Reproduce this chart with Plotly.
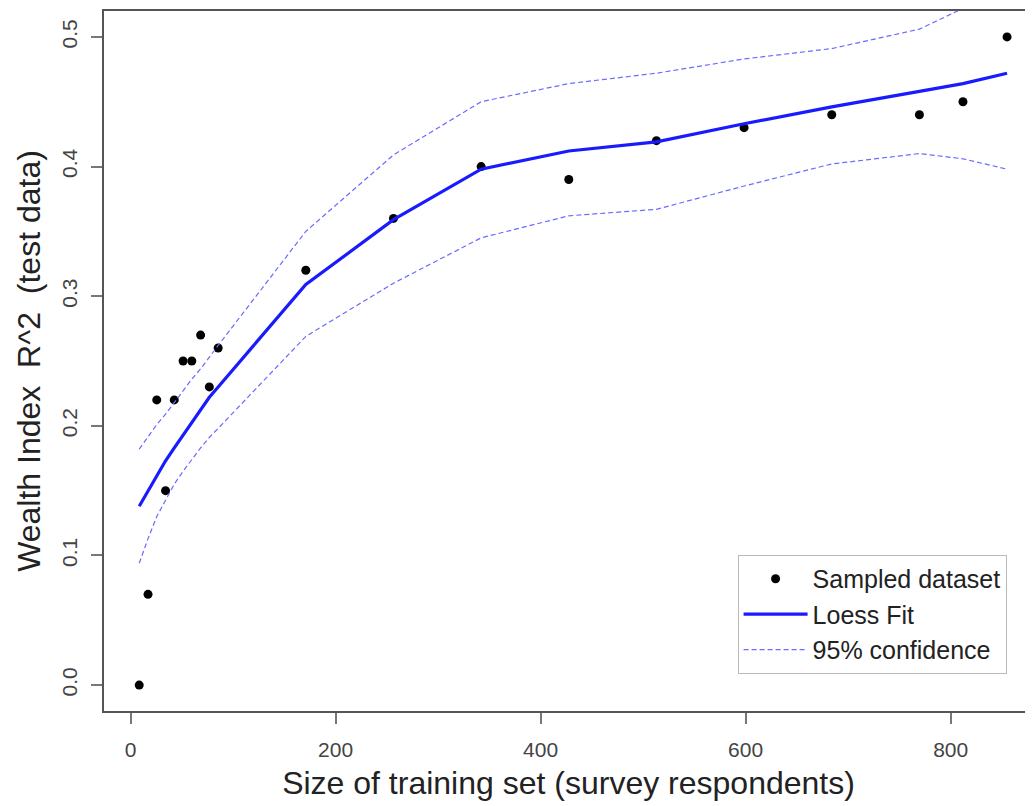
import plotly.graph_objects as go

# Data
train_size = [8.5, 17.1, 25.6, 34.2, 42.7, 51.3, 59.8, 68.4, 76.9, 85.5,
              171, 256.5, 342, 427.5, 513, 598.5, 684, 769.5, 812, 855]
r2_sampled = [0.00, 0.07, 0.22, 0.15, 0.22, 0.25, 0.25, 0.27, 0.23, 0.26,
              0.32, 0.36, 0.40, 0.39, 0.42, 0.43, 0.44, 0.44, 0.45, 0.50]
loess_fit = [0.138, 0.150, 0.162, 0.173, 0.183, 0.193, 0.203, 0.212, 0.222, 0.230,
             0.309, 0.359, 0.398, 0.412, 0.419, 0.433, 0.446, 0.458, 0.464, 0.472]
ci_upper = [0.182, 0.192, 0.201, 0.209, 0.218, 0.227, 0.236, 0.244, 0.253, 0.262,
            0.350, 0.409, 0.450, 0.464, 0.472, 0.483, 0.491, 0.506, 0.522, 0.546]
ci_lower = [0.094, 0.113, 0.130, 0.143, 0.155, 0.165, 0.174, 0.183, 0.191, 0.198,
            0.269, 0.310, 0.345, 0.362, 0.367, 0.385, 0.402, 0.410, 0.406, 0.398]

x_ticks = [0, 200, 400, 600, 800]
y_ticks = [0.0, 0.1, 0.2, 0.3, 0.4, 0.5]
y_tick_text = ["0.0", "0.1", "0.2", "0.3", "0.4", "0.5"]

FONT = "Liberation Sans, Arial, sans-serif"
TICKFONT = "Liberation Sans Narrow, Liberation Sans, Arial, sans-serif"
CI_COLOR = "#6b6bff"
FIT_COLOR = "#1a1aff"

fig = go.Figure()
fig.add_trace(go.Scatter(x=train_size, y=r2_sampled, mode="markers",
                         name="Sampled dataset",
                         marker=dict(color="black", size=9)))
fig.add_trace(go.Scatter(x=train_size, y=loess_fit, mode="lines",
                         name="Loess Fit",
                         line=dict(color=FIT_COLOR, width=3.2)))
fig.add_trace(go.Scatter(x=train_size, y=ci_upper, mode="lines",
                         name="95% confidence",
                         line=dict(color=CI_COLOR, width=1.2, dash="5px,3px")))
fig.add_trace(go.Scatter(x=train_size, y=ci_lower, mode="lines",
                         name="95% confidence", showlegend=False,
                         line=dict(color=CI_COLOR, width=1.2, dash="5px,3px")))

# The page body adds an 8px offset, so the figure is 8px smaller each way.
fig.update_layout(
    width=1025, height=798,
    margin=dict(l=96, r=0, t=3, b=95),
    plot_bgcolor="white", paper_bgcolor="white",
    font=dict(family=FONT, color="#222"),
    showlegend=True,
    legend=dict(x=0.682, y=0.2229, xanchor="left", yanchor="top",
                bordercolor="#bbb", borderwidth=1, bgcolor="white",
                font=dict(size=25, family=FONT, color="#222"),
                itemwidth=64, tracegroupgap=0),
    xaxis=dict(range=[-25.85, 880.3], tickvals=x_ticks, automargin=False,
               showgrid=False, zeroline=False,
               showline=True, linecolor="#555", linewidth=1.5, mirror=True,
               ticks="outside", ticklen=11, tickcolor="#777", tickwidth=1.5,
               ticklabelstandoff=8,
               tickfont=dict(size=21, family=TICKFONT, color="#444"),
               title=dict(text="Size of training set (survey respondents)",
                          font=dict(size=32, family=FONT, color="#222"),
                          standoff=12)),
    yaxis=dict(range=[-0.02, 0.52], tickvals=y_ticks, ticktext=y_tick_text,
               tickangle=-90, automargin=False,
               showgrid=False, zeroline=False,
               showline=True, linecolor="#555", linewidth=1.5, mirror=False,
               ticks="outside", ticklen=11, tickcolor="#777", tickwidth=1.5,
               ticklabelstandoff=6,
               tickfont=dict(size=21, family=TICKFONT, color="#444"),
               title=dict(text="Wealth Index\u00a0\u00a0R^2\u00a0\u00a0(test data)",
                          font=dict(size=32, family=FONT, color="#222"),
                          standoff=8)),
)

fig.write_html("out.html")
